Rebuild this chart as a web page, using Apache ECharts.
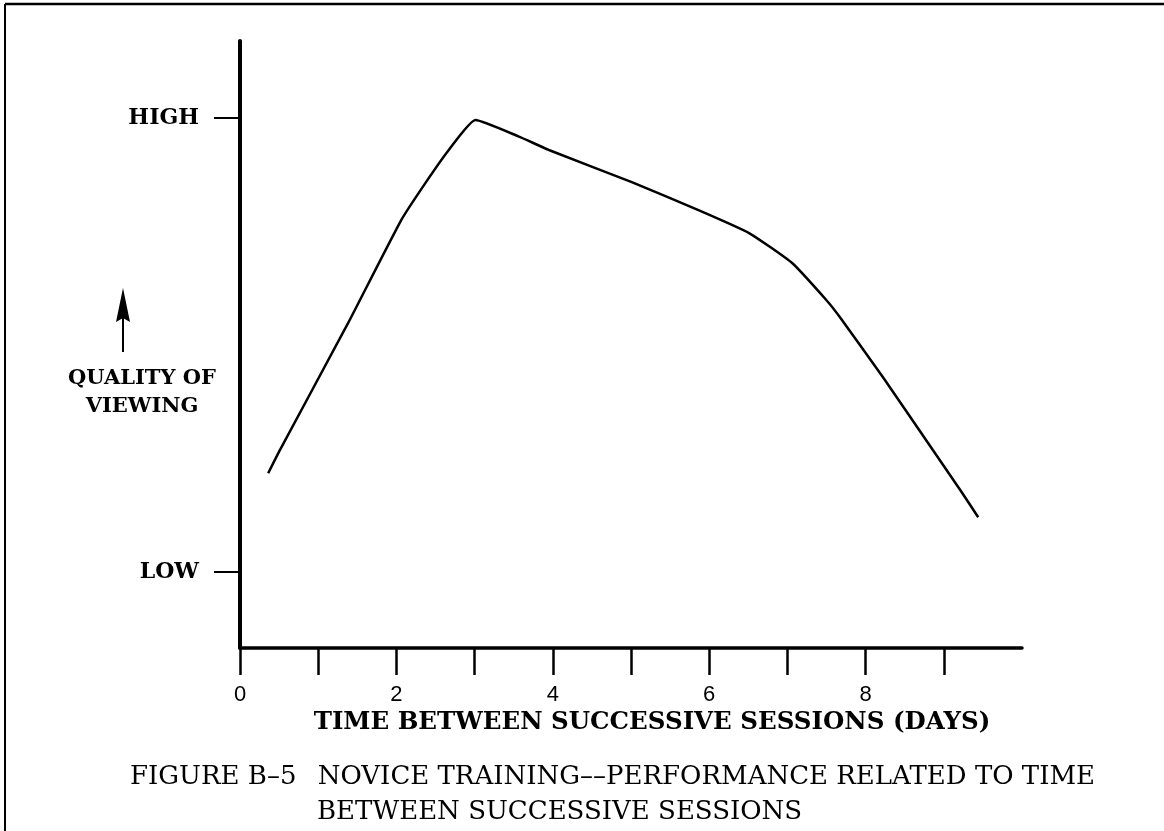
<!DOCTYPE html>
<html><head><meta charset="utf-8">
<script src="https://cdn.jsdelivr.net/npm/echarts@6/dist/echarts.min.js"></script>
<style>html,body{margin:0;padding:0;background:#fff}#c{width:1164px;height:831px}</style>
</head><body><div id="c"></div>
<script>
// Time between successive sessions (days)
const days = [0.36, 0.51, 1.38, 2.06, 2.37, 2.67, 3.01, 3.56, 3.95, 5.01, 5.87, 6.51, 7.06, 7.50, 7.67, 8.22, 8.86, 9.21, 9.44];
// Quality of viewing (LOW = 0, HIGH = 10)
const quality = [2.18, 2.69, 5.48, 7.75, 8.57, 9.30, 9.96, 9.60, 9.30, 8.59, 7.97, 7.47, 6.81, 5.99, 5.62, 4.30, 2.69, 1.81, 1.21];
const xTickValues = [0, 1, 2, 3, 4, 5, 6, 7, 8, 9];
const xLabelValues = [0, 2, 4, 6, 8];
const yTickValues = [0, 10];
const yTickNames = ['LOW', 'HIGH'];
const xTitle = 'TIME BETWEEN SUCCESSIVE SESSIONS (DAYS)';
const yTitle = ['QUALITY OF', 'VIEWING'];
const caption1 = 'FIGURE B\u20135\u2002 NOVICE TRAINING\u2013\u2013PERFORMANCE RELATED TO TIME';
const caption2 = 'BETWEEN SUCCESSIVE SESSIONS';

const chart = echarts.init(document.getElementById('c'), null, {renderer: 'canvas'});
const serif = '"DejaVu Serif", "Liberation Serif", serif';
chart.setOption({
  animation: false,
  backgroundColor: '#fff',
  grid: {left: 240, right: 142, top: 41, bottom: 183, containLabel: false},
  xAxis: {
    type: 'value', min: 0, max: 10,
    axisLine: {show: true, onZero: false, lineStyle: {color: '#000', width: 3.5, cap: 'round'}},
    axisTick: {show: true, customValues: xTickValues, length: 27, lineStyle: {color: '#000', width: 2.5}},
    axisLabel: {show: true, customValues: xLabelValues, margin: 36, color: '#000',
      fontFamily: '"Liberation Sans", Arial, sans-serif', fontSize: 22},
    splitLine: {show: false}
  },
  yAxis: {
    type: 'value', min: -1.67, max: 11.7,
    axisLine: {show: true, onZero: false, lineStyle: {color: '#000', width: 4, cap: 'round'}},
    axisTick: {show: true, customValues: yTickValues, length: 26, lineStyle: {color: '#000', width: 2}},
    axisLabel: {show: true, customValues: yTickValues, margin: 41, color: '#000',
      fontFamily: serif, fontWeight: 'bold', fontSize: 22,
      formatter: v => yTickNames[yTickValues.indexOf(v)] || ''},
    splitLine: {show: false}
  },
  series: [{
    type: 'line',
    data: days.map((d, i) => [d, quality[i]]),
    showSymbol: false, smooth: 0.15,
    lineStyle: {color: '#000', width: 2.5}
  }],
  graphic: [
    {type: 'line', shape: {x1: 5, y1: 4, x2: 1164, y2: 4}, style: {stroke: '#000', lineWidth: 2.5}},
    {type: 'line', shape: {x1: 5, y1: 4, x2: 5, y2: 831}, style: {stroke: '#000', lineWidth: 2}},
    {type: 'line', shape: {x1: 123, y1: 352, x2: 123, y2: 305}, style: {stroke: '#000', lineWidth: 2}},
    {type: 'polygon', shape: {points: [[123, 288], [116, 322], [123, 318], [130, 322]]}, style: {fill: '#000'}},
    {type: 'text', x: 142, y: 379, style: {text: yTitle[0], fill: '#000', font: 'bold 21px ' + serif, align: 'center', verticalAlign: 'middle'}},
    {type: 'text', x: 142, y: 407, style: {text: yTitle[1], fill: '#000', font: 'bold 21px ' + serif, align: 'center', verticalAlign: 'middle'}},
    {type: 'text', x: 652, y: 723, style: {text: xTitle, fill: '#000', font: 'bold 24.5px ' + serif, align: 'center', verticalAlign: 'middle'}},
    {type: 'text', x: 130, y: 777, style: {text: caption1, fill: '#000', font: '26px ' + serif, align: 'left', verticalAlign: 'middle'}},
    {type: 'text', x: 317, y: 812, style: {text: caption2, fill: '#000', font: '26px ' + serif, align: 'left', verticalAlign: 'middle'}}
  ]
});
</script>
</body></html>
